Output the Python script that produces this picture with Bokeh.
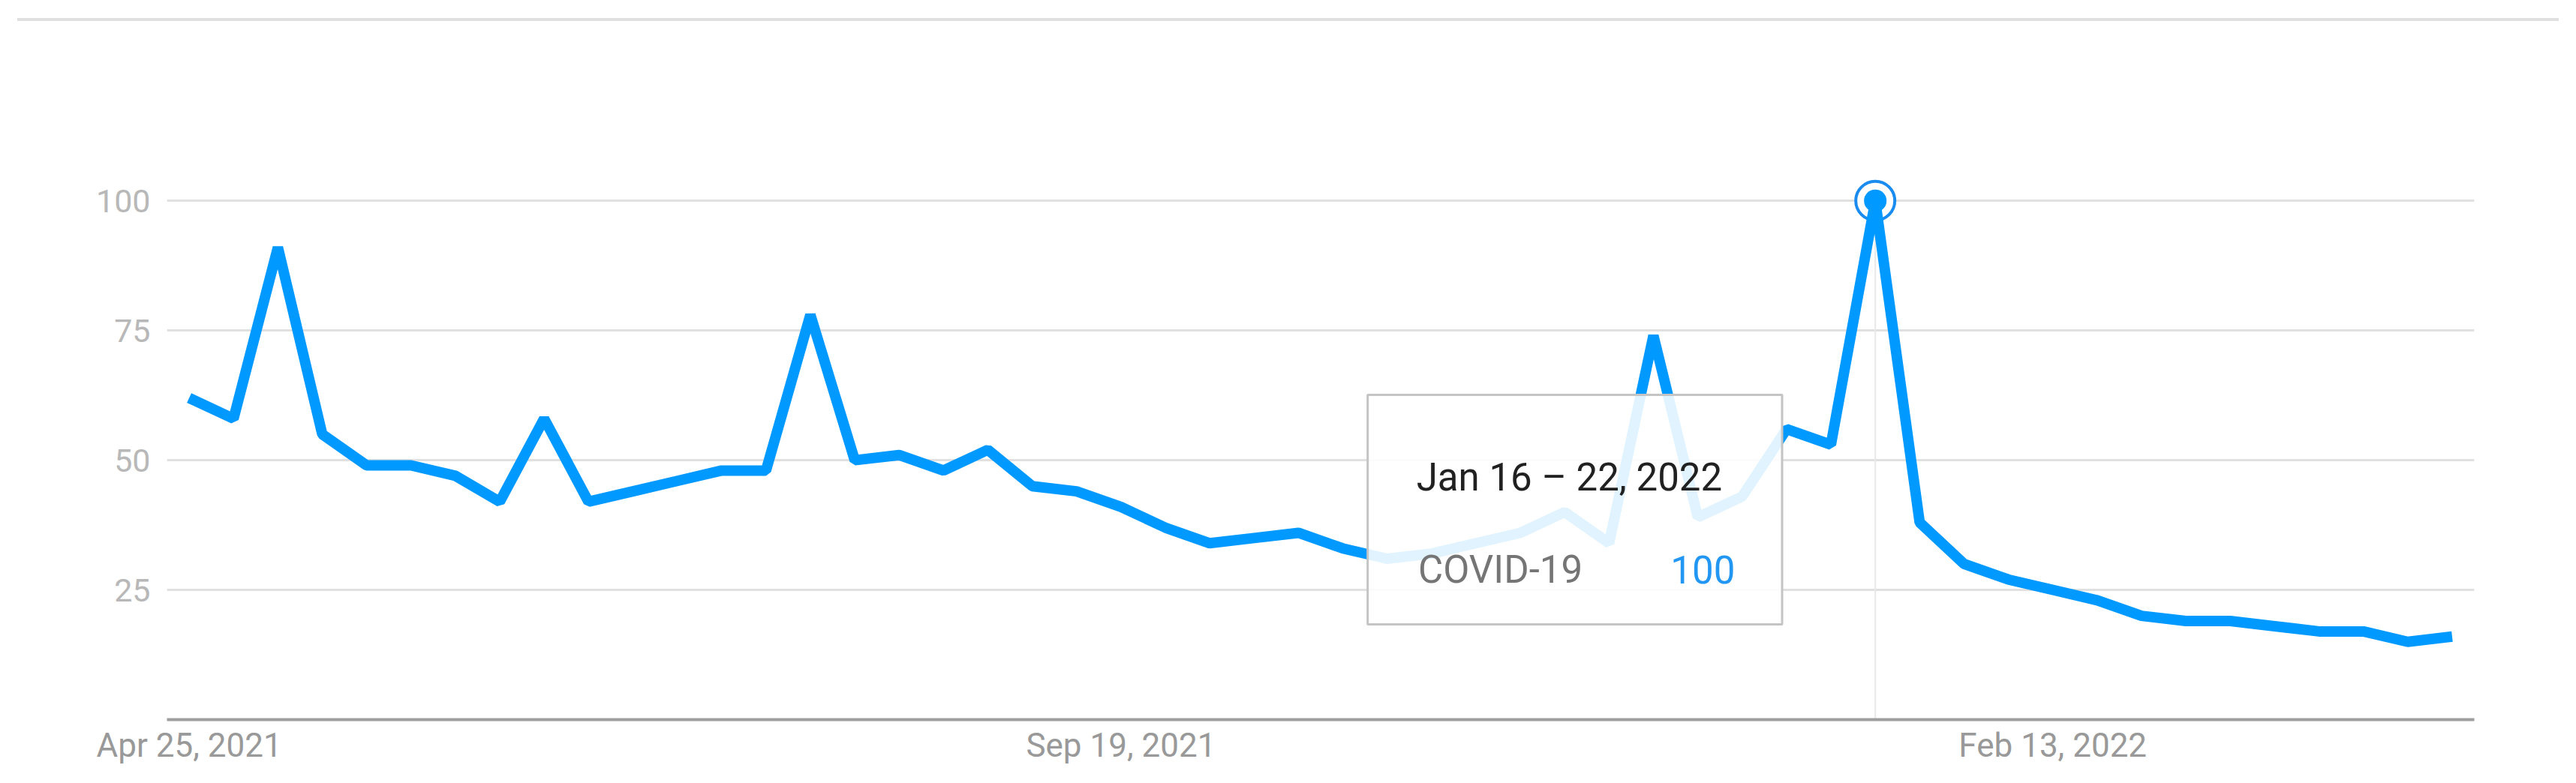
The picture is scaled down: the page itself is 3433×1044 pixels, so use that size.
import pandas as pd
from bokeh.plotting import figure
from bokeh.models import Range1d, FixedTicker, DatetimeTickFormatter, Label, ColumnDataSource, Div
from bokeh.layouts import column
from bokeh.embed import file_html
from bokeh.resources import INLINE

# ---------------- data ----------------
start_week = "2021-04-25"
series_name = "COVID-19"
interest = [62, 58, 91, 55, 49, 49, 47, 42, 58, 42,
            44, 46, 48, 48, 78, 50, 51, 48, 52, 45,
            44, 41, 37, 34, 35, 36, 33, 31, 32, 34,
            36, 40, 34, 74, 39, 43, 56, 53, 100, 38,
            30, 27, 25, 23, 20, 19, 19, 18, 17, 17,
            15, 16]
x_tick_dates = ["2021-04-25", "2021-09-19", "2022-02-13"]
x_tick_labels = ["Apr 25, 2021", "Sep 19, 2021", "Feb 13, 2022"]
y_ticks = [25, 50, 75, 100]

# ---------------- build ----------------
weeks = pd.date_range(start_week, periods=len(interest), freq="7D")
src = ColumnDataSource(dict(week=weeks, value=interest))

BLUE = "#0099ff"
WEEK = pd.Timedelta(days=7)
half = pd.Timedelta(days=3.5)


def ms(ts):
    return pd.Timestamp(ts).value / 1e6


p = figure(frame_width=3075, frame_height=761, x_axis_type="datetime",
           x_range=Range1d(weeks[0] - half, weeks[-1] + half),
           y_range=Range1d(0, 110),
           output_backend="svg", toolbar_location=None,
           min_border_left=222, min_border_right=120,
           min_border_top=170, min_border_bottom=64)
p.outline_line_color = None
p.background_fill_color = "white"
p.border_fill_color = "white"

p.xgrid.visible = False
p.ygrid.grid_line_color = "#e0e0e0"
p.ygrid.grid_line_width = 3
p.yaxis.ticker = FixedTicker(ticks=y_ticks)
p.yaxis.axis_line_color = None
p.yaxis.major_tick_line_color = None
p.yaxis.minor_tick_line_color = None
p.yaxis.major_tick_out = 0
p.yaxis.major_tick_in = 0
p.yaxis.major_label_text_font = "Roboto"
p.yaxis.major_label_text_font_size = "43px"
p.yaxis.major_label_text_color = "#b8b8b8"
p.yaxis.major_label_standoff = 22

tick_ms = [ms(d) for d in x_tick_dates]
p.xaxis.ticker = FixedTicker(ticks=tick_ms)
p.xaxis.formatter = DatetimeTickFormatter(days="%b %d, %Y", months="%b %d, %Y", years="%b %d, %Y")
p.xaxis.major_label_overrides = {t: lab for t, lab in zip(tick_ms, x_tick_labels)}
p.xaxis.axis_line_color = "#9e9e9e"
p.xaxis.axis_line_width = 4
p.xaxis.major_tick_line_color = None
p.xaxis.minor_tick_line_color = None
p.xaxis.major_tick_out = 0
p.xaxis.major_tick_in = 0
p.xaxis.major_label_text_font = "Roboto"
p.xaxis.major_label_text_font_size = "44px"
p.xaxis.major_label_text_color = "#999999"
p.xaxis.major_label_standoff = 8

# highlighted point (maximum)
peak_i = interest.index(max(interest))
peak_date = weeks[peak_i]
peak_val = interest[peak_i]

p.segment(x0=[peak_date], y0=[0], x1=[peak_date], y1=[peak_val],
          line_color="#e8e8e8", line_width=2)
p.scatter(x=[peak_date], y=[peak_val], size=52, marker="circle",
          fill_color="white", line_color="#1a8cf0", line_width=4)
p.line("week", "value", source=src, line_color=BLUE, line_width=14,
       line_join="bevel")
p.scatter(x=[peak_date], y=[peak_val], size=30, marker="circle",
          fill_color=BLUE, line_color=None)

# tooltip box
tip_left = peak_date - 11.44 * WEEK
tip_right = peak_date - 2.10 * WEEK
p.quad(left=[tip_left], right=[tip_right], top=[62.6], bottom=[18.35],
       fill_color="white", fill_alpha=0.88, line_color="#c4c4c4", line_width=3)

week_end = peak_date + pd.Timedelta(days=6)
tip_title = f"{peak_date:%b} {peak_date.day} \u2013 {week_end.day}, {week_end.year}"
p.add_layout(Label(x=ms(peak_date - 10.34 * WEEK), y=46.7, text=tip_title,
                   text_font="Roboto", text_font_size="51px", text_color="#212121",
                   text_baseline="alphabetic"))
p.add_layout(Label(x=ms(peak_date - 10.30 * WEEK), y=28.9, text=series_name,
                   text_font="Roboto", text_font_size="51px", text_color="#757575",
                   text_baseline="alphabetic"))
p.add_layout(Label(x=ms(peak_date - 3.16 * WEEK), y=28.9, text=str(peak_val),
                   text_font="Roboto", text_font_size="51px", text_color="#2196f3",
                   text_baseline="alphabetic", text_align="right"))

top_rule = Div(text="", width=3387, height=4, margin=(24, 0, 0, 23),
               styles={"background-color": "#e0e0e0"})

layout = column(top_rule, p)
open("out.html", "w").write(file_html(layout, INLINE))
